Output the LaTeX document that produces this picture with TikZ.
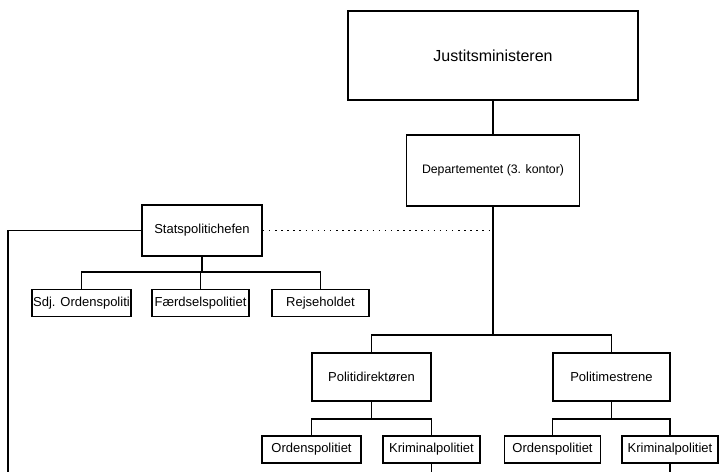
\documentclass[tikz,border=0pt]{standalone}
\usepackage{fontspec}
\setmainfont{Liberation Sans}
\usepackage{tikz}

\begin{document}
\begin{tikzpicture}[x=1pt, y=-1pt, line width=1.6,
    box/.style={draw, line width=1.6, fill=white, inner sep=1pt, font=\fontsize{13}{15}\selectfont},
    unit/.style={box, minimum height=27pt}]
    \useasboundingbox (0, 0) rectangle (720, 472);

    % top of the hierarchy
    \node[box, minimum width=290pt, minimum height=89pt, font=\fontsize{16}{19}\selectfont]
      (jm) at (493, 55.5) {Justitsministeren};
    \node[box, minimum width=173pt, minimum height=71pt, font=\fontsize{12.3}{15}\selectfont]
      (dep) at (493, 170.5) {Departementet (3. kontor)};

    % state police
    \node[box, minimum width=120pt, minimum height=51pt] (stats) at (202, 230.5) {Statspolitichefen};
    \node[unit, minimum width=99pt] (sdj) at (81.5, 303) {Sdj. Ordenspoliti};
    \node[unit, minimum width=97pt] (faerd) at (200.5, 303) {Færdselspolitiet};
    \node[unit, minimum width=97pt] (rejse) at (320.5, 303) {Rejseholdet};

    % police districts
    \node[box, minimum width=119pt, minimum height=48pt] (pdir) at (371.5, 377) {Politidirektøren};
    \node[box, minimum width=117pt, minimum height=48pt] (pmest) at (611.5, 377) {Politimestrene};
    \node[unit, minimum width=99pt] (ord1) at (311.5, 449.5) {Ordenspolitiet};
    \node[unit, minimum width=97pt] (krim1) at (431.5, 449.5) {Kriminalpolitiet};
    \node[unit, minimum width=96pt] (ord2) at (552.5, 449.5) {Ordenspolitiet};
    \node[unit, minimum width=96pt] (krim2) at (670, 449.5) {Kriminalpolitiet};

    \coordinate (split) at (dep.south |- 0, 335);
    \coordinate (cross) at (dep.south |- stats.east);
    \coordinate (statsfork) at (stats.south |- 0, 272);
    \coordinate (pdirfork) at (pdir.south |- 0, 419);
    \coordinate (pmestfork) at (pmest.south |- 0, 419);
    \coordinate (leftend) at (8, 472);
    \coordinate (krim1end) at (krim1.south |- leftend);
    \coordinate (krim2end) at (krim2.south |- leftend);

    \draw (jm) -- (dep);
    \draw (dep.south) -- (split);
    \draw (pdir.north) |- (split) -| (pmest.north);
    \draw[dash pattern=on 1.5pt off 4.6pt, line width=1.6] (stats.east) -- (cross);

    \draw (stats.south) -- (statsfork);
    \draw (sdj.north) |- (statsfork) -| (rejse.north);
    \draw (faerd.north) -- (faerd.north |- statsfork);
    \draw (stats.west) -| (leftend);

    \draw (pdir.south) -- (pdirfork);
    \draw (ord1.north) |- (pdirfork) -| (krim1.north);
    \draw (pmest.south) -- (pmestfork);
    \draw (ord2.north) |- (pmestfork) -| (krim2.north);
    \draw (krim1.south) -- (krim1end);
    \draw (krim2.south) -- (krim2end);
  \end{tikzpicture}
\end{document}
